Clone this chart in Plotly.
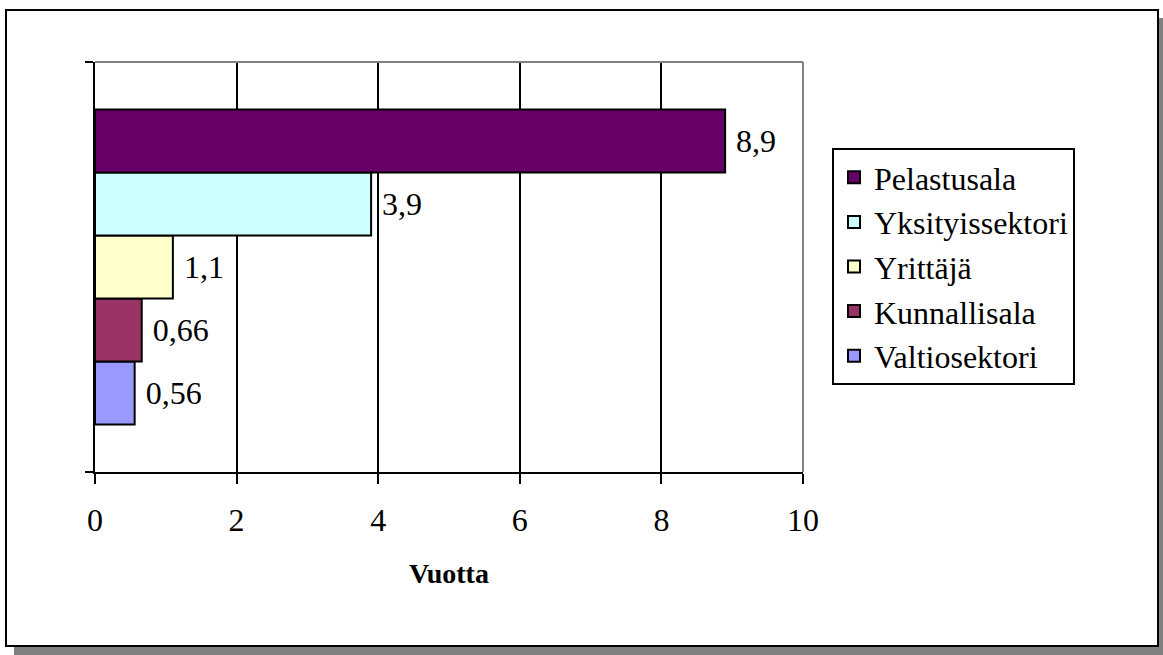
import plotly.graph_objects as go

# Data (legend order, top to bottom)
series = ["Pelastusala", "Yksityissektori", "Yrittäjä", "Kunnallisala", "Valtiosektori"]
values = [8.9, 3.9, 1.1, 0.66, 0.56]
colors = ["#660066", "#CCFFFF", "#FFFFCC", "#993366", "#9999FF"]
x_ticks = [0, 2, 4, 6, 8, 10]
x_title = "Vuotta"

W, H = 1163, 655
L, R, T, B = 95, 803, 62, 472  # plot area in pixels
FONT = "Liberation Serif"


def px(x):
    return (x - L) / (R - L)


def py(y):
    return (B - y) / (B - T)


fig = go.Figure()
# add bottom-most first so first legend series is on top
for name, val, col in reversed(list(zip(series, values, colors))):
    fig.add_trace(go.Bar(
        y=[0], x=[val], name=name, orientation="h",
        marker=dict(color=col, line=dict(color="black", width=2)),
        text=["\u00a0" + str(val).replace(".", ",")],
        textposition="outside",
        textfont=dict(family=FONT, size=32, color="black"),
        cliponaxis=False,
    ))

shapes = [
    # shadow
    dict(type="rect", xref="paper", yref="paper", layer="below",
         x0=px(14), x1=px(1175), y0=py(670), y1=py(18),
         fillcolor="#808080", line=dict(width=0)),
    # frame
    dict(type="rect", xref="paper", yref="paper", layer="below",
         x0=px(6), x1=px(1158), y0=py(646), y1=py(10),
         fillcolor="white", line=dict(color="black", width=2)),
    # plot area top and right border (gray)
    dict(type="line", xref="paper", yref="paper", layer="above",
         x0=0, x1=1, y0=1, y1=1, line=dict(color="#808080", width=2)),
    dict(type="line", xref="paper", yref="paper", layer="above",
         x0=1, x1=1, y0=0, y1=1, line=dict(color="#808080", width=2)),
]

fig.update_layout(
    width=W, height=H,
    margin=dict(l=L, r=W - R, t=T, b=H - B, autoexpand=False),
    paper_bgcolor="white", plot_bgcolor="rgba(0,0,0,0)",
    barmode="group", bargap=0.232, bargroupgap=0,
    font=dict(family=FONT, size=32, color="black"),
    showlegend=True,
    legend=dict(
        traceorder="reversed",
        x=px(832), y=py(148), xanchor="left", yanchor="top",
        bordercolor="black", borderwidth=2, bgcolor="white",
        font=dict(family=FONT, size=32, color="black"),
    ),
    xaxis=dict(
        range=[0, 10], tickvals=x_ticks, ticktext=[str(t) for t in x_ticks],
        showgrid=True, gridcolor="black", gridwidth=2,
        showline=True, linecolor="black", linewidth=2,
        ticks="outside", ticklen=10, tickwidth=2, tickcolor="black",
        ticklabelstandoff=9,
        tickfont=dict(family=FONT, size=32, color="black"),
        zeroline=False,
        title=dict(text="<b>" + x_title + "</b>", standoff=26,
                   font=dict(family=FONT, size=28, color="black")),
    ),
    yaxis=dict(
        range=[-0.5, 0.5], tickvals=[-0.5, 0.5], showticklabels=False,
        showgrid=False, zeroline=False,
        showline=True, linecolor="black", linewidth=2,
        ticks="outside", ticklen=8, tickwidth=2, tickcolor="black",
    ),
    shapes=shapes,
)

fig.write_html(
    "out.html",
    config={"displayModeBar": False},
    post_script="document.body.style.margin='0';document.body.style.overflow='hidden';",
)
